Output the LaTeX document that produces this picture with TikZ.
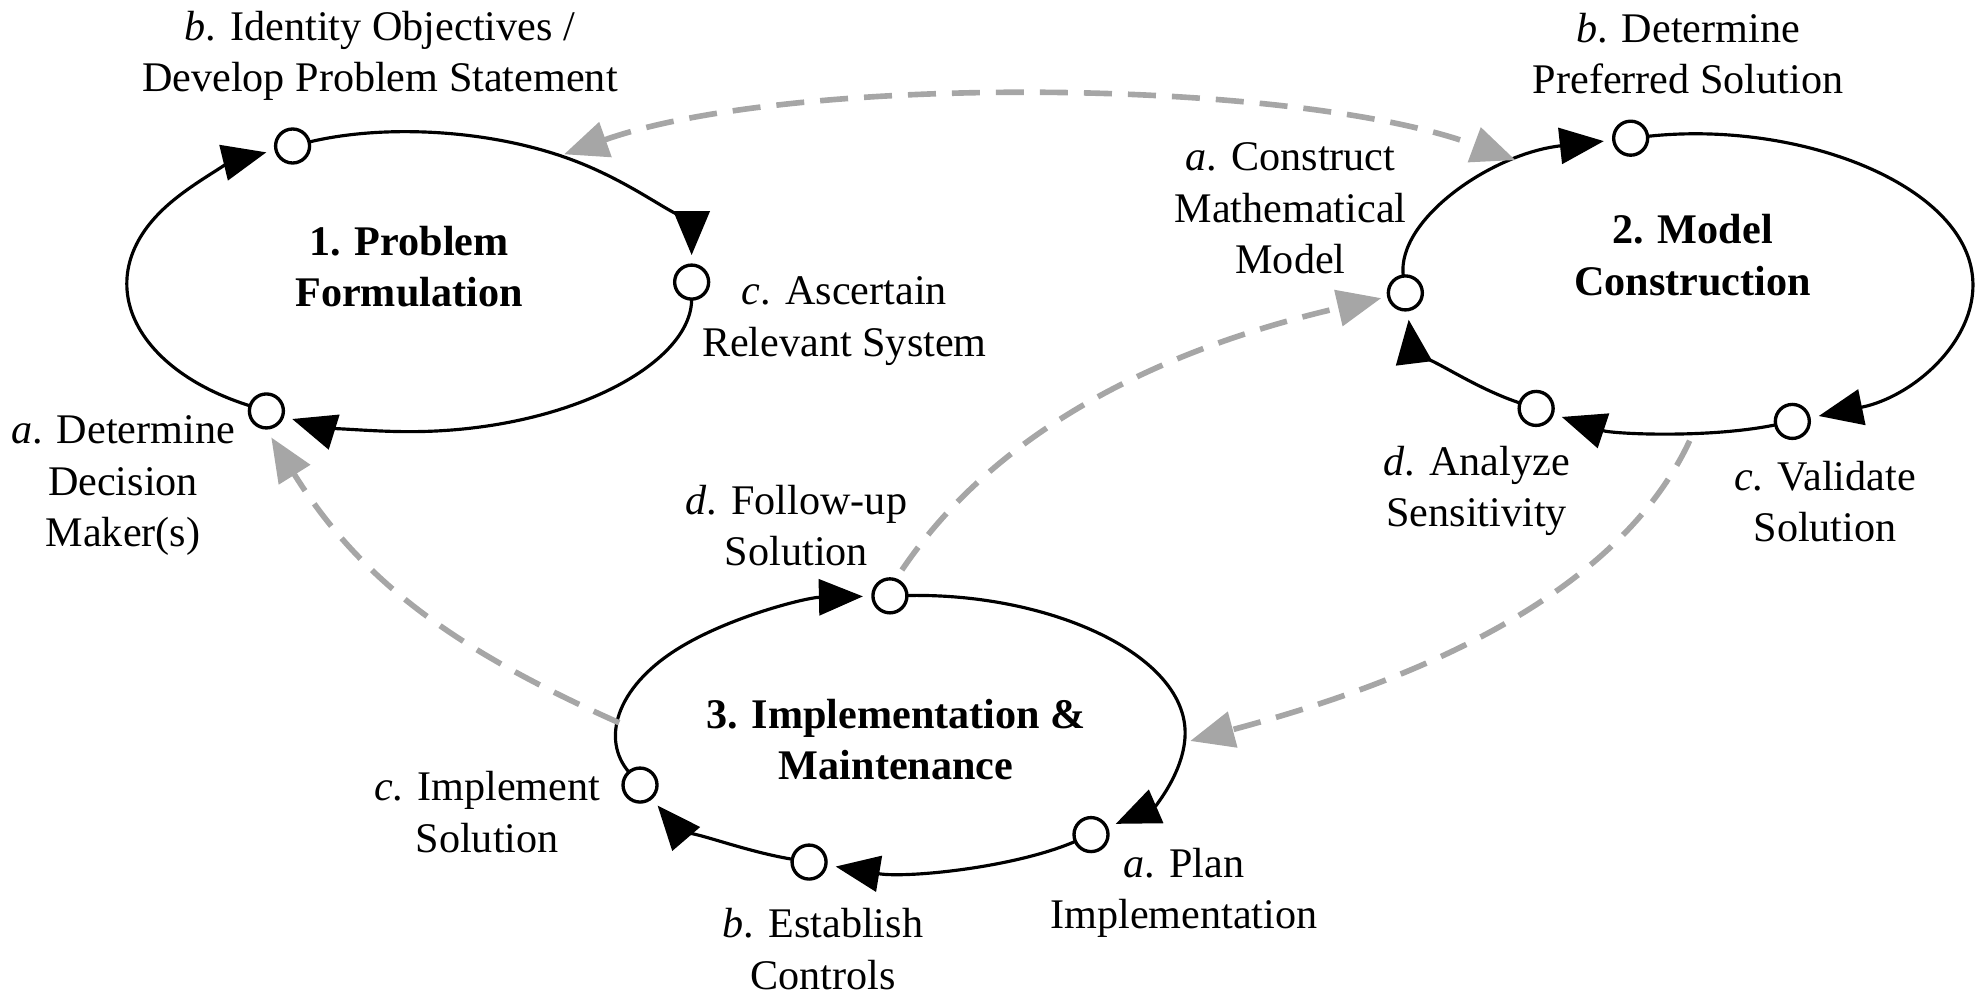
\documentclass[tikz,border=0pt]{standalone}
\usepackage{fontspec}
\setmainfont{Liberation Serif}
\usetikzlibrary{arrows.meta,shapes.geometric,calc}
\definecolor{linkgray}{RGB}{166,166,166}
\begin{document}
\begin{tikzpicture}[x=0.01262cm,y=0.01262cm,
  >={Triangle[length=0.44cm,width=0.36cm]},
  every node/.style={font=\fontsize{12}{14.6}\selectfont},
  phase/.style={ellipse,draw=none,inner sep=0pt,outer sep=0pt},
  phasetitle/.style={align=center,inner sep=0pt,font=\fontsize{12}{14.6}\selectfont\bfseries},
  stepdot/.style={circle,draw,fill=white,line width=0.95pt,minimum size=0.34cm,inner sep=0pt},
  steplabel/.style={align=center,inner sep=0pt},
  flow/.style={->,line width=0.9pt,shorten <=0.17cm,shorten >=0.27cm},
  feedback/.style={->,draw=linkgray,line width=1.6pt,dash pattern=on 0.28cm off 0.16cm},
]
\useasboundingbox (0,0) rectangle (1568,788);

% the three phases
\node[phase,minimum width=5.641cm,minimum height=2.991cm] (e1) at (324.5,564.5) {};
\node[phase,minimum width=5.679cm,minimum height=2.966cm] (e2) at (1338,563.5) {};
\node[phase,minimum width=5.666cm,minimum height=2.739cm] (e3) at (714.5,207.5) {};

\node[phasetitle] (t1) at (324,576.6) {1. Problem\\Formulation};
\node[phasetitle] (t2) at (1341,585.8) {2. Model\\Construction};
\node[phasetitle] (t3) at (710,202) {3. Implementation \&\\Maintenance};

% steps of phase 1
\node[stepdot] (a1) at ($(e1.center)+(239.5:223.5 and 118.5)$) {};
\node[stepdot] (b1) at ($(e1.center)+(114.5:223.5 and 118.5)$) {};
\node[stepdot] (c1) at ($(e1.center)+(0:223.5 and 118.5)$) {};
\draw[flow] (a1.center) arc[start angle=239.5,end angle=114.5,x radius=223.5,y radius=118.5];
\draw[flow] (b1.center) arc[start angle=114.5,end angle=0,x radius=223.5,y radius=118.5];
\draw[flow] (c1.center) arc[start angle=360,end angle=239.5,x radius=223.5,y radius=118.5];

% steps of phase 2
\node[stepdot] (a2) at ($(e2.center)+(183.7:225 and 117.5)$) {};
\node[stepdot] (b2) at ($(e2.center)+(101.8:225 and 117.5)$) {};
\node[stepdot] (c2) at ($(e2.center)+(291.4:225 and 117.5)$) {};
\node[stepdot] (d2) at ($(e2.center)+(237.5:225 and 117.5)$) {};
\draw[flow] (a2.center) arc[start angle=183.7,end angle=101.8,x radius=225,y radius=117.5];
\draw[flow] (b2.center) arc[start angle=101.8,end angle=-68.6,x radius=225,y radius=117.5];
\draw[flow] (c2.center) arc[start angle=291.4,end angle=237.5,x radius=225,y radius=117.5];
\draw[flow] (d2.center) arc[start angle=237.5,end angle=183.7,x radius=225,y radius=117.5];

% steps of phase 3
\node[stepdot] (d3) at ($(e3.center)+(92.4:224.5 and 108.5)$) {};
\node[stepdot] (a3) at ($(e3.center)+(311.9:224.5 and 108.5)$) {};
\node[stepdot] (b3) at ($(e3.center)+(250.9:224.5 and 108.5)$) {};
\node[stepdot] (c3) at ($(e3.center)+(202.5:224.5 and 108.5)$) {};
\draw[flow] (d3.center) arc[start angle=92.4,end angle=-48.1,x radius=224.5,y radius=108.5];
\draw[flow] (a3.center) arc[start angle=311.9,end angle=250.9,x radius=224.5,y radius=108.5];
\draw[flow] (b3.center) arc[start angle=250.9,end angle=202.5,x radius=224.5,y radius=108.5];
\draw[flow] (c3.center) arc[start angle=202.5,end angle=92.4,x radius=224.5,y radius=108.5];

% step labels
\node[steplabel] (la1) at (97.5,403.1) {\textit{a}. Determine\\Decision\\Maker(s)};
\node[steplabel] (lb1) at (301,744) {\textit{b}. Identity Objectives /\\Develop Problem Statement};
\node[steplabel] (lc1) at (669,533.7) {\textit{c}. Ascertain\\Relevant System};

\node[steplabel] (la2) at (1022.5,623) {\textit{a}. Construct\\Mathematical\\Model};
\node[steplabel] (lb2) at (1337.5,745.4) {\textit{b}. Determine\\Preferred Solution};
\node[steplabel] (lc2) at (1446,390.5) {\textit{c}. Validate\\Solution};
\node[steplabel] (ld2) at (1170,399) {\textit{d}. Analyze\\Sensitivity};

\node[steplabel] (la3) at (938,80.5) {\textit{a}. Plan\\Implementation};
\node[steplabel] (lb3) at (652,36) {\textit{b}. Establish\\Controls};
\node[steplabel] (lc3) at (386,144.5) {\textit{c}. Implement\\Solution};
\node[steplabel] (ld3) at (631,371.7) {\textit{d}. Follow-up\\Solution};

% feedback links between the phases
\draw[feedback,<->,shorten <=0.04cm,shorten >=0.08cm]
  (e1.40) to[bend left=20,looseness=0.65] (e2.144);
\draw[feedback,shorten <=0.1cm,shorten >=0.06cm]
  (d3.70) to[out=56,in=193,looseness=0.9] (a2.192);
\draw[feedback,shorten <=0.1cm,shorten >=0.06cm]
  (e2.-88) to[out=245,in=15,looseness=0.85] (e3.-2);
\draw[feedback,shorten >=0.092cm]
  (e3.178) to[out=156,in=302] (a1.south);
\end{tikzpicture}
\end{document}
